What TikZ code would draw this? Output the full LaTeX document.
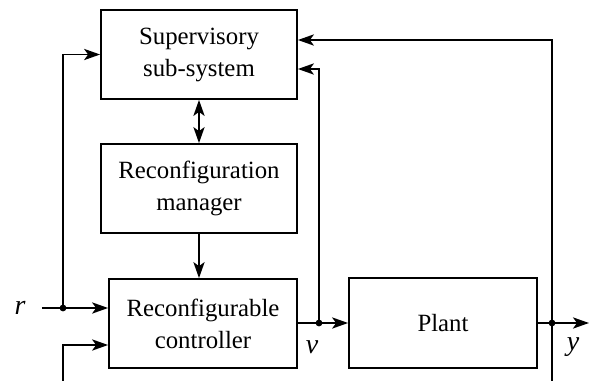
\documentclass[tikz,border=0pt]{standalone}
\usepackage{fontspec}
\setmainfont{Liberation Serif}
\usetikzlibrary{arrows.meta}
\tikzset{blk/.style={draw,align=center,inner sep=0pt},
         junc/.style={circle,fill,inner sep=0pt,minimum size=3.4pt}}
\begin{document}
\begin{tikzpicture}[x=0.5pt,y=-0.5pt,>={Stealth[length=8pt,width=5.6pt,inset=2pt]},line width=0.9pt,
                    font=\fontsize{12.4}{16}\selectfont]
                \useasboundingbox (0,0) rectangle (591,381);

                % blocks
                \node[blk,minimum width=98pt,minimum height=44.5pt] (sup) at (199,54.5) {Supervisory\\sub-system};
                \node[blk,minimum width=98pt,minimum height=44.5pt] (mgr) at (199,188.5) {Reconfiguration\\manager};
                \node[blk,minimum width=94pt,minimum height=44.5pt] (ctrl) at (203,323.5) {Reconfigurable\\controller};
                \node[blk,minimum width=94pt,minimum height=45pt] (plant) at (443,323) {Plant};

                % signals
                \node (r) at (20,308) {\fontsize{14}{16}\selectfont\textit{r}};
                \node (v) at (312,347) {\fontsize{14}{16}\selectfont\textit{v}};
                \node (y) at (573,347) {\fontsize{14}{16}\selectfont\textit{y}};
                \coordinate (rin) at (42,308);
                \coordinate (fbin) at (63,381);
                \coordinate (ybot) at (552,381);
                \coordinate (yout) at (589,323);
                \node[junc] (rd) at (63,308) {};
                \node[junc] (vd) at (319,323) {};
                \node[junc] (yd) at (552,323) {};

                \draw[<->] (sup) -- (mgr);
                \draw[->] (mgr.south) -- (mgr.south |- ctrl.north);
                \draw[->] (rin) -- (rin -| ctrl.west);
                \draw[->] (rd.center) |- (sup.west);
                \draw[->] (fbin) |- (ctrl.west |- 0,345);
                \draw (ctrl.east |- vd) -- (vd.center);
                \draw[->] (vd.center) -- (vd -| plant.west);
                \draw[->] (vd.center) |- (sup.east |- 0,69);
                \draw[->] (plant.east |- yd) -- (yout);
                \draw[->] (ybot) |- (sup.east |- 0,40);
\end{tikzpicture}
\end{document}
